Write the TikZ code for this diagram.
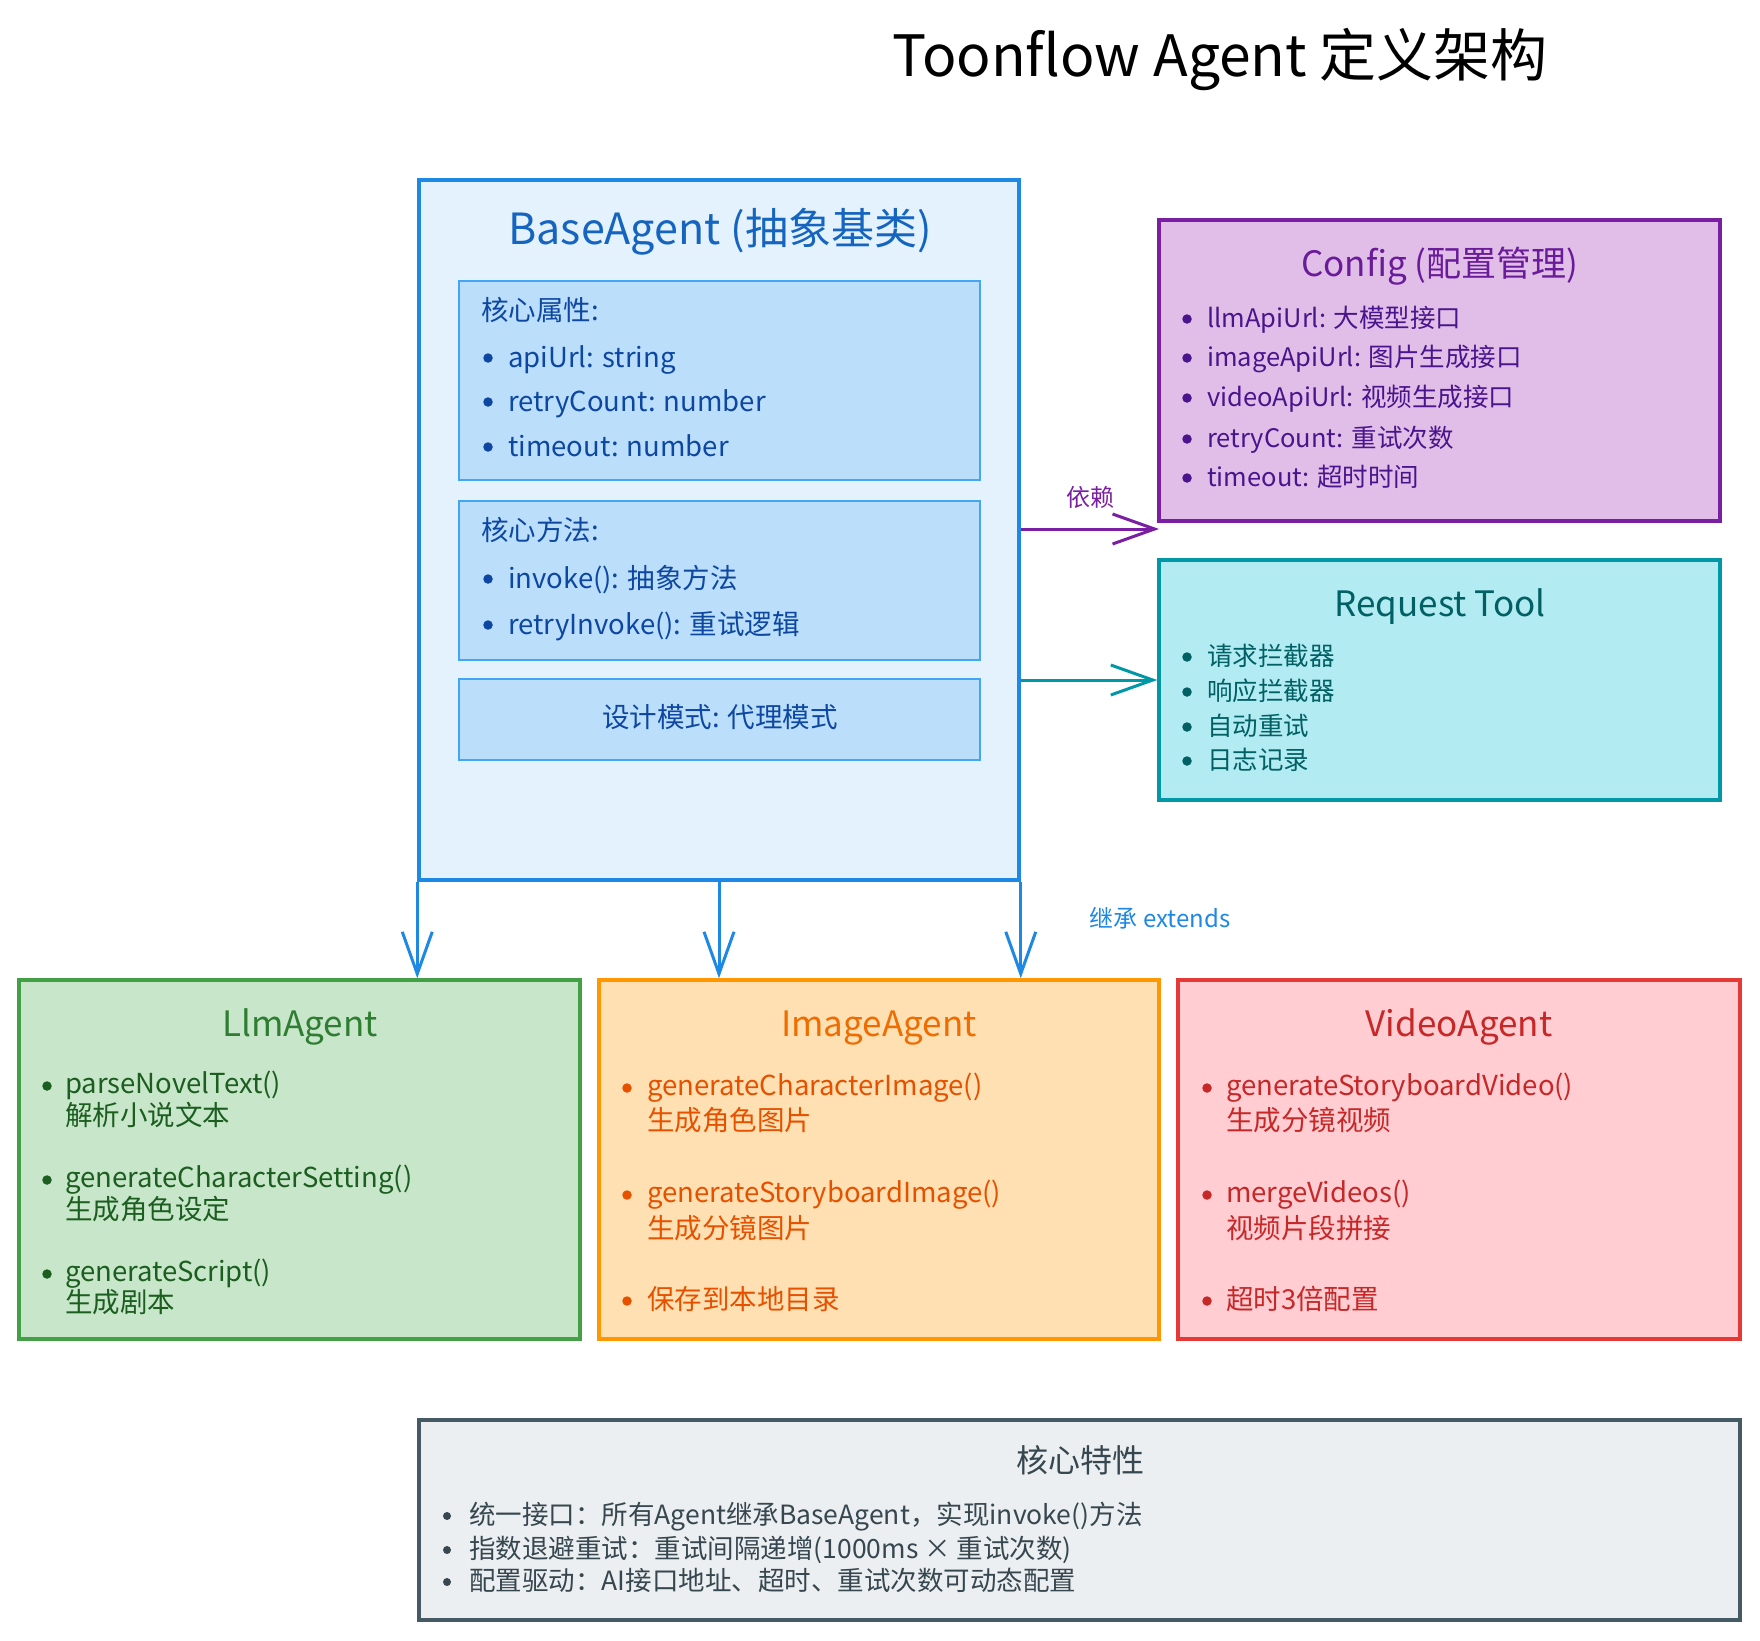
\documentclass[tikz,border=0pt]{standalone}
\usepackage{fontspec}
\setmainfont{Noto Sans CJK SC}
\usetikzlibrary{arrows.meta}
\definecolor{basefill}{HTML}{E3F2FD}
\definecolor{baseedge}{HTML}{1E88E5}
\definecolor{basetitle}{HTML}{1565C0}
\definecolor{basetext}{HTML}{0D47A1}
\definecolor{subfill}{HTML}{BBDEFB}
\definecolor{subedge}{HTML}{42A5F5}
\definecolor{cfgfill}{HTML}{E1BEE7}
\definecolor{cfgedge}{HTML}{7B1FA2}
\definecolor{cfgtitle}{HTML}{6A1B9A}
\definecolor{cfgtext}{HTML}{4A148C}
\definecolor{reqfill}{HTML}{B2EBF2}
\definecolor{reqedge}{HTML}{0097A7}
\definecolor{reqtext}{HTML}{006064}
\definecolor{llmfill}{HTML}{C8E6C9}
\definecolor{llmedge}{HTML}{43A047}
\definecolor{llmtitle}{HTML}{2E7D32}
\definecolor{llmtext}{HTML}{1B5E20}
\definecolor{imgfill}{HTML}{FFE0B2}
\definecolor{imgedge}{HTML}{FF9800}
\definecolor{imgtitle}{HTML}{EF6C00}
\definecolor{imgtext}{HTML}{E65100}
\definecolor{vidfill}{HTML}{FFCDD2}
\definecolor{videdge}{HTML}{E53935}
\definecolor{vidtext}{HTML}{C62828}
\definecolor{corefill}{HTML}{ECEFF1}
\definecolor{coreedge}{HTML}{455A64}
\definecolor{coretext}{HTML}{37474F}
\begin{document}
\begin{tikzpicture}[x=1pt,y=-1pt,
  box/.style={draw, line width=3.5pt, inner sep=0pt, rectangle},
  subbox/.style={draw=subedge, fill=subfill, line width=2pt, inner sep=0pt, rectangle},
  itm/.style={anchor=base west, inner sep=0pt, font=\fontsize{27.5}{31}\selectfont},
  small/.style={anchor=base west, inner sep=0pt, font=\fontsize{25.5}{29}\selectfont},
  ttl/.style={anchor=base, inner sep=0pt, font=\fontsize{35}{40}\selectfont},
  bul/.style={circle, inner sep=0pt, minimum size=9.5pt},
  lbl/.style={anchor=base, inner sep=0pt, font=\fontsize{24}{28}\selectfont},
  arr/.style={line width=3pt, -{Straight Barb[length=42pt,width=30pt,line width=3pt]}},
]
\useasboundingbox (0,0) rectangle (1760,1640);

% main title
\node[anchor=base, inner sep=0pt, font=\fontsize{57}{62}\selectfont] (title) at (1220,77) {Toonflow Agent 定义架构};

% BaseAgent
\node[box, draw=baseedge, fill=basefill, minimum width=600pt, minimum height=700pt] (base) at (719,530) {};
\node[anchor=base, inner sep=0pt, font=\fontsize{43}{48}\selectfont, text=basetitle] (basettl) at (720,244) {BaseAgent (抽象基类)};
\node[subbox, minimum width=521pt, minimum height=199pt] (sub1) at (719.5,380.5) {};
\node[subbox, minimum width=521pt, minimum height=159pt] (sub2) at (719.5,580.5) {};
\node[subbox, minimum width=521pt, minimum height=81pt] (sub3) at (719.5,719.5) {};
\begin{scope}[every node/.append style={text=basetext}]
\node[itm] (s1h) at (481,320) {核心属性:};
\node[bul, fill=basetext] (s1b1) at (488,358) {};
\node[itm] (s1a) at (508,367) {apiUrl: string};
\node[bul, fill=basetext] (s1b2) at (488,402) {};
\node[itm] (s1c) at (508,411) {retryCount: number};
\node[bul, fill=basetext] (s1b3) at (488,447) {};
\node[itm] (s1d) at (508,456) {timeout: number};
\node[itm] (s2h) at (481,540) {核心方法:};
\node[bul, fill=basetext] (s2b1) at (488,579) {};
\node[itm] (s2a) at (508,588) {invoke(): 抽象方法};
\node[bul, fill=basetext] (s2b2) at (488,625) {};
\node[itm] (s2c) at (508,634) {retryInvoke(): 重试逻辑};
\node[anchor=base, inner sep=0pt, font=\fontsize{27.5}{31}\selectfont] (s3t) at (720,727) {设计模式: 代理模式};
\end{scope}

% Config
\node[box, draw=cfgedge, fill=cfgfill, minimum width=561pt, minimum height=301pt] (cfg) at (1439.5,370.5) {};
\node[ttl, text=cfgtitle] (cfgttl) at (1440,276) {Config (配置管理)};
\begin{scope}[every node/.append style={text=cfgtext}]
\node[bul, fill=cfgtext] (cb1) at (1187,319) {};
\node[small] (c1) at (1207,327) {llmApiUrl: 大模型接口};
\node[bul, fill=cfgtext] (cb2) at (1187,358) {};
\node[small] (c2) at (1207,366) {imageApiUrl: 图片生成接口};
\node[bul, fill=cfgtext] (cb3) at (1187,398) {};
\node[small] (c3) at (1207,406) {videoApiUrl: 视频生成接口};
\node[bul, fill=cfgtext] (cb4) at (1187,439) {};
\node[small] (c4) at (1207,447) {retryCount: 重试次数};
\node[bul, fill=cfgtext] (cb5) at (1187,478) {};
\node[small] (c5) at (1207,486) {timeout: 超时时间};
\end{scope}

% Request Tool
\node[box, draw=reqedge, fill=reqfill, minimum width=561pt, minimum height=240pt] (req) at (1439.5,680) {};
\node[ttl, text=reqtext] (reqttl) at (1440,616) {Request Tool};
\begin{scope}[every node/.append style={text=reqtext}]
\node[bul, fill=reqtext] (rb1) at (1187,657) {};
\node[small] (r1) at (1207,665) {请求拦截器};
\node[bul, fill=reqtext] (rb2) at (1187,692) {};
\node[small] (r2) at (1207,700) {响应拦截器};
\node[bul, fill=reqtext] (rb3) at (1187,727) {};
\node[small] (r3) at (1207,735) {自动重试};
\node[bul, fill=reqtext] (rb4) at (1187,761) {};
\node[small] (r4) at (1207,769) {日志记录};
\end{scope}

% LlmAgent
\node[box, draw=llmedge, fill=llmfill, minimum width=561pt, minimum height=359pt] (llm) at (299.5,1159.5) {};
\node[ttl, text=llmtitle] (llmttl) at (300,1036) {LlmAgent};
\begin{scope}[every node/.append style={text=llmtext}]
\node[bul, fill=llmtext] (lb1) at (47,1086) {};
\node[itm] (l1) at (65,1093) {parseNovelText()};
\node[itm] (l1z) at (65,1125) {解析小说文本};
\node[bul, fill=llmtext] (lb2) at (47,1180) {};
\node[itm] (l2) at (65,1187) {generateCharacterSetting()};
\node[itm] (l2z) at (65,1219) {生成角色设定};
\node[bul, fill=llmtext] (lb3) at (47,1274) {};
\node[itm] (l3) at (65,1281) {generateScript()};
\node[itm] (l3z) at (65,1312) {生成剧本};
\end{scope}

% ImageAgent
\node[box, draw=imgedge, fill=imgfill, minimum width=560pt, minimum height=359pt] (img) at (879,1159.5) {};
\node[ttl, text=imgtitle] (imgttl) at (879,1036) {ImageAgent};
\begin{scope}[every node/.append style={text=imgtext}]
\node[bul, fill=imgtext] (ib1) at (627,1088) {};
\node[itm] (i1) at (647,1095) {generateCharacterImage()};
\node[itm] (i1z) at (647,1130) {生成角色图片};
\node[bul, fill=imgtext] (ib2) at (627,1195) {};
\node[itm] (i2) at (647,1202) {generateStoryboardImage()};
\node[itm] (i2z) at (647,1238) {生成分镜图片};
\node[bul, fill=imgtext] (ib3) at (627,1301) {};
\node[itm] (i3) at (647,1309) {保存到本地目录};
\end{scope}

% VideoAgent
\node[box, draw=videdge, fill=vidfill, minimum width=562pt, minimum height=359pt] (vid) at (1459,1159.5) {};
\node[ttl, text=vidtext] (vidttl) at (1459,1036) {VideoAgent};
\begin{scope}[every node/.append style={text=vidtext}]
\node[bul, fill=vidtext] (vb1) at (1207,1088) {};
\node[itm] (v1) at (1226,1095) {generateStoryboardVideo()};
\node[itm] (v1z) at (1226,1130) {生成分镜视频};
\node[bul, fill=vidtext] (vb2) at (1207,1195) {};
\node[itm] (v2) at (1226,1202) {mergeVideos()};
\node[itm] (v2z) at (1226,1238) {视频片段拼接};
\node[bul, fill=vidtext] (vb3) at (1207,1301) {};
\node[itm] (v3) at (1226,1309) {超时3倍配置};
\end{scope}

% Core features
\node[box, draw=coreedge, fill=corefill, minimum width=1321pt, minimum height=200pt] (core) at (1079.5,1520) {};
\node[anchor=base, inner sep=0pt, font=\fontsize{32}{38}\selectfont, text=coretext] (corettl) at (1080,1472) {核心特性};
\begin{scope}[every node/.append style={text=coretext}]
\node[bul, fill=coretext, minimum size=8pt] (kb1) at (447,1516) {};
\node[anchor=base west, inner sep=0pt, font=\fontsize{26.5}{30}\selectfont] (k1) at (469,1524) {统一接口：所有Agent继承BaseAgent，实现invoke()方法};
\node[bul, fill=coretext, minimum size=8pt] (kb2) at (447,1550) {};
\node[anchor=base west, inner sep=0pt, font=\fontsize{26.5}{30}\selectfont] (k2) at (469,1558) {指数退避重试：重试间隔递增(1000ms × 重试次数)};
\node[bul, fill=coretext, minimum size=8pt] (kb3) at (447,1582) {};
\node[anchor=base west, inner sep=0pt, font=\fontsize{26.5}{30}\selectfont] (k3) at (469,1590) {配置驱动：AI接口地址、超时、重试次数可动态配置};
\end{scope}

% connectors
\coordinate (depend) at (1159,529);
\draw[arr, draw=cfgedge] (base.east |- depend) -- (depend);
\node[lbl, text=cfgedge] (deplbl) at (1090,506) {依赖};
\draw[arr, draw=reqedge] (base.east |- req.west) -- (req.west);
\draw[arr, draw=baseedge] (base.south west) -- (base.south west |- llm.north);
\draw[arr, draw=baseedge] (base.south) -- (base.south |- img.north);
\draw[arr, draw=baseedge] (base.south east) -- (base.south east |- img.north);
\node[lbl, text=baseedge] (extlbl) at (1160,927) {继承 extends};
\end{tikzpicture}
\end{document}
